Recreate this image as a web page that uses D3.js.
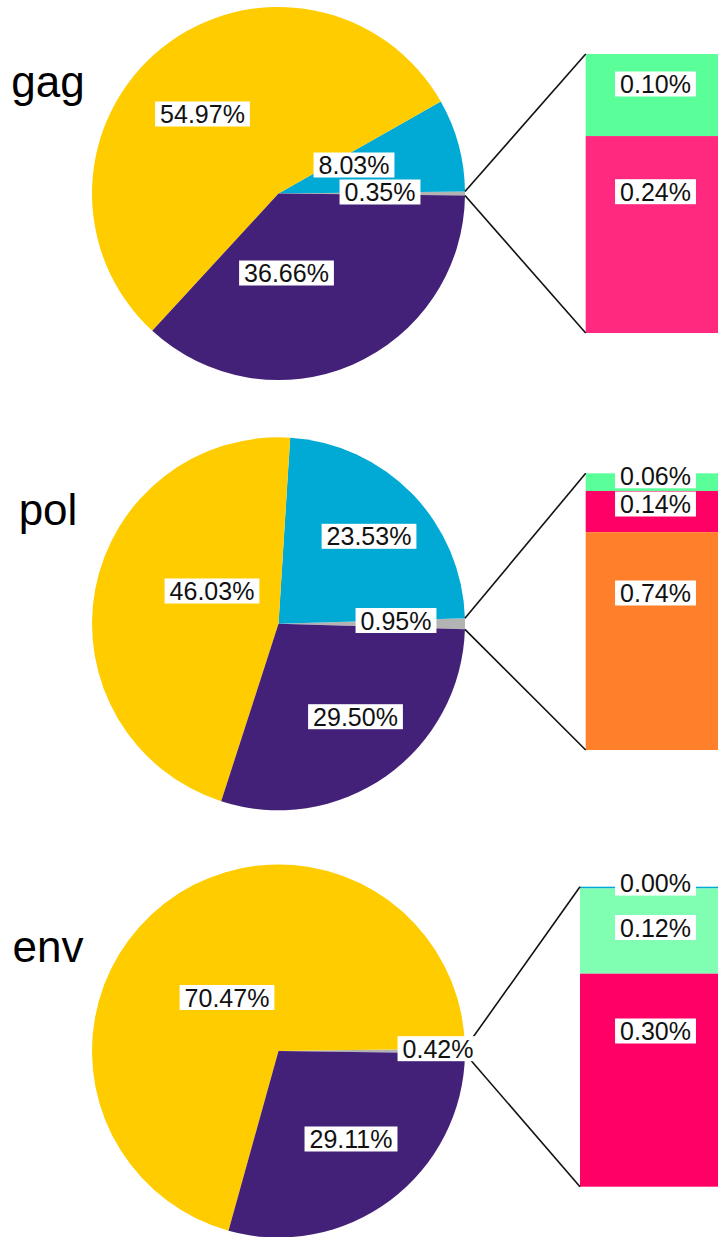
<!DOCTYPE html>
<html>
<head>
<meta charset="utf-8">
<script src="https://cdn.jsdelivr.net/npm/d3@7"></script>
<style>
  html, body { margin: 0; padding: 0; background: #fff; }
  svg { display: block; }
</style>
</head>
<body>
<svg id="chart" width="718" height="1237"></svg>
<script>
// ---- data ----
const panelNames = ["gag", "pol", "env"];

// pie slices: minor share (expanded in the bar), then the three main groups
const pieCategories = ["other", "group B", "group A", "group C"];
const gagPie = [0.35, 8.03, 54.97, 36.66];
const polPie = [0.95, 23.53, 46.03, 29.50];
const envPie = [0.42, 0.00, 70.47, 29.11];
const pieColors = ["#b3b3b3", "#00aad4", "#ffcc00", "#442178"];

// breakdown of the minor share, stacked top to bottom
const gagBarCategories = ["m1", "m2"];
const gagBar = [0.10, 0.24];
const polBarCategories = ["m1", "m2", "m3"];
const polBar = [0.06, 0.14, 0.74];
const envBarCategories = ["m0", "m1", "m2"];
const envBar = [0.0025, 0.12, 0.30];

const gagBarColors = ["#5aff99", "#ff2a7f"];
const polBarColors = ["#5aff99", "#ff0066", "#ff7f2a"];
const envBarColors = ["#00aad4", "#80ffb3", "#ff0066"];

// ---- layout ----
const W = 718, H = 1237;
const cx = 278.5, R = 186.5;
const layout = [
  { cy: 193.5, titleY: 97,  bx0: 585.7, bx1: 725.3, by0: 54,    by1: 333,
    pieLabel: [[101.5, -1.5], [75.5, -28.5], [-76, -79.5], [8, 79.5]],
    barLabel: [0.1075, 0.4935] },
  { cy: 623.8, titleY: 525, bx0: 585.7, bx1: 725.3, by0: 473.3, by1: 750,
    pieLabel: [[117.5, -3.3], [90.5, -87.5], [-66.5, -32.8], [77, 92.9]],
    barLabel: [0.009, 0.111, 0.4326] },
  { cy: 1051,  titleY: 962, bx0: 580,   bx1: 731,   by0: 886.7, by1: 1186.7,
    pieLabel: [[159.5, -2.3], [0, 0], [-51.5, -53.5], [72.5, 88]],
    barLabel: [-0.012, 0.136, 0.481] }
];

const pies = [gagPie, polPie, envPie];
const bars = [gagBar, polBar, envBar];
const barColors = [gagBarColors, polBarColors, envBarColors];

const FONT = "'Liberation Sans', Arial, Helvetica, sans-serif";
const fmt = d => d3.format(".2f")(d) + "%";

const svg = d3.select("#chart");

// text with a tight white box behind it, centred on (x, y)
function boxedLabel(parent, x, y, text) {
  const g = parent.append("g").attr("transform", `translate(${x},${y})`);
  const t = g.append("text")
    .attr("x", 0).attr("y", 9)
    .attr("text-anchor", "middle")
    .attr("font-family", FONT)
    .attr("font-size", 25)
    .attr("fill", "#111")
    .text(text);
  const w = t.node().getComputedTextLength() + 10;
  g.insert("rect", "text")
    .attr("x", -w / 2).attr("y", -12.5)
    .attr("width", w).attr("height", 25)
    .attr("fill", "#fff");
}

panelNames.forEach((name, i) => {
  const L = layout[i];
  const values = pies[i];
  const total = d3.sum(values);
  const otherAngle = values[0] / total * 2 * Math.PI;

  const g = svg.append("g");

  // pie, counter-clockwise, minor slice centred on the right
  const pie = d3.pie().sort(null).value(d => d)
    .startAngle(Math.PI / 2 + otherAngle / 2)
    .endAngle(Math.PI / 2 + otherAngle / 2 - 2 * Math.PI);
  const arcs = pie(values);
  const arc = d3.arc().innerRadius(0).outerRadius(R);

  const pg = g.append("g").attr("transform", `translate(${cx},${L.cy})`);
  pg.selectAll("path").data(arcs).join("path")
    .attr("d", arc)
    .attr("fill", (d, j) => pieColors[j]);

  // stacked bar for the minor slice
  const bv = bars[i];
  const y = d3.scaleLinear().domain([0, d3.sum(bv)]).range([L.by0, L.by1]);
  const stackStarts = d3.cumsum([0, ...bv]).slice(0, bv.length);
  const bg = g.append("g");
  bg.selectAll("rect").data(bv).join("rect")
    .attr("x", L.bx0)
    .attr("width", L.bx1 - L.bx0)
    .attr("y", (d, j) => y(stackStarts[j]))
    .attr("height", (d, j) => y(stackStarts[j] + d) - y(stackStarts[j]))
    .attr("fill", (d, j) => barColors[i][j]);

  // connector lines from the minor wedge edges to the bar corners
  const o = arcs[0];
  const pt = a => [cx + R * Math.sin(a), L.cy - R * Math.cos(a)];
  const upper = pt(o.endAngle), lower = pt(o.startAngle);
  g.append("line")
    .attr("x1", upper[0]).attr("y1", upper[1])
    .attr("x2", L.bx0).attr("y2", y(0))
    .attr("stroke", "#111").attr("stroke-width", 1.6);
  g.append("line")
    .attr("x1", lower[0]).attr("y1", lower[1])
    .attr("x2", L.bx0).attr("y2", y(d3.sum(bv)))
    .attr("stroke", "#111").attr("stroke-width", 1.6);

  // pie labels
  const lg = g.append("g");
  arcs.forEach((a, j) => {
    if (a.data <= 0) return;
    const off = L.pieLabel[j];
    boxedLabel(lg, cx + off[0], L.cy + off[1], fmt(a.data));
  });

  // bar labels
  const barMid = (L.bx0 + L.bx1) / 2;
  bv.forEach((v, j) => {
    const ly = L.by0 + L.barLabel[j] * (L.by1 - L.by0);
    boxedLabel(lg, barMid, ly, fmt(v));
  });

  // panel title
  g.append("text")
    .attr("x", 48).attr("y", L.titleY)
    .attr("text-anchor", "middle")
    .attr("font-family", FONT)
    .attr("font-size", 44)
    .attr("fill", "#000")
    .text(name);
});
</script>
</body>
</html>
